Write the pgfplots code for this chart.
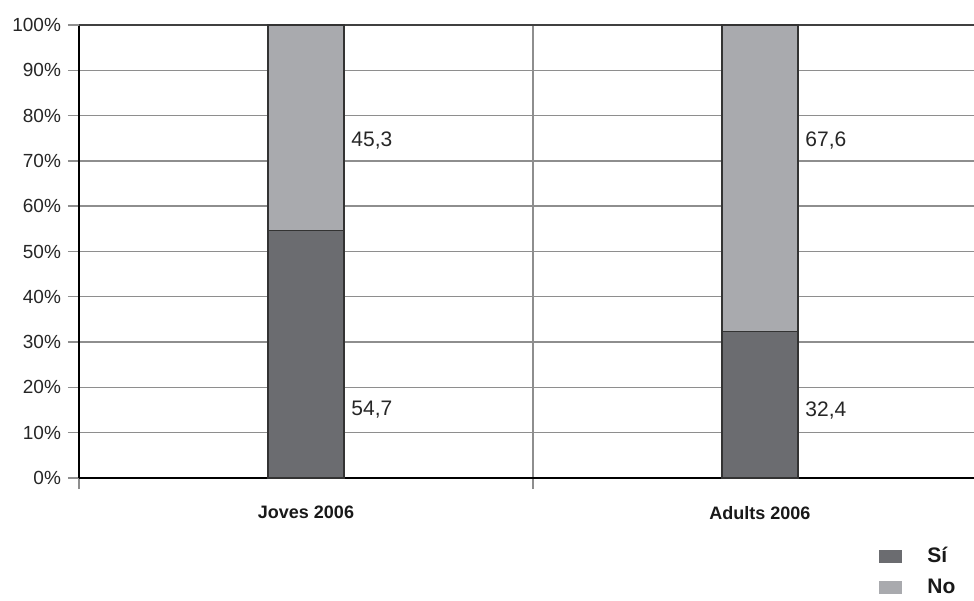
\documentclass[border=0pt]{standalone}
\usepackage{pgfplots}
\pgfplotsset{compat=1.18}
\usepackage{fontspec}
\setmainfont{Liberation Sans}
\definecolor{si}{HTML}{6B6C70}
\definecolor{no}{HTML}{A9AAAE}
\definecolor{gridc}{HTML}{8E8E8E}
\begin{document}
\begin{tikzpicture}[x=1pt,y=1pt]
\useasboundingbox (0,0) rectangle (487,300);
\clip (0,0) rectangle (487,300);
\begin{axis}[
  at={(39.5pt,61pt)}, anchor=south west,
  scale only axis, width=454pt, height=226.5pt,
  xmin=0, xmax=2, ymin=0, ymax=100,
  ybar stacked, bar width=38pt,
  axis lines*=left,
  axis line style={draw=black, line width=0.7pt},
  xtick={0,1,2}, xticklabels={},
  ytick={0,10,...,90},
  extra y ticks={100},
  extra y tick style={grid style={draw=black!75, line width=1pt}},
  ymajorgrids, xmajorgrids,
  grid style={draw=gridc, line width=0.7pt},
  tick style={draw=gridc, line width=0.7pt},
  major tick length=5.5pt, tick align=outside,
  yticklabel={\pgfmathprintnumber{\tick}\%},
  yticklabel style={font=\fontsize{9.5}{11}\selectfont, text=black!85},
  /pgf/number format/assume math mode=true,
  extra x ticks={0.5,1.5},
  extra x tick labels={Joves 2006, Adults 2006},
  extra x tick style={major tick length=0pt, xmajorgrids=false,
    xticklabel style={font=\bfseries\fontsize{9}{10}\selectfont, text=black!90, yshift=-10.5pt}},
  legend style={draw=none, fill=none, at={(0.881,-0.140)}, anchor=north west,
    font=\bfseries\fontsize{10.5}{12}\selectfont, text=black!90, row sep=2pt, inner sep=0pt,
    nodes={inner ysep=2.5pt}},
  legend cell align=left,
  legend image code/.code={\fill[#1, draw=none] (0pt,-3.25pt) rectangle (11.5pt,3.25pt);
    \path[draw=none, fill=none] (0pt,0pt) -- (22pt,0pt);},
]
\addplot[fill=si, draw=black!80, line width=0.6pt] coordinates {(0.5,54.7) (1.5,32.4)};
\addlegendentry{Sí}
\addplot[fill=no, draw=black!80, line width=0.6pt] coordinates {(0.5,45.3) (1.5,67.6)};
\addlegendentry{No}
\node[anchor=west, inner sep=0pt, xshift=22.5pt, font=\fontsize{10.5}{12}\selectfont, text=black!85] at (axis cs:0.5,15) {54,7};
\node[anchor=west, inner sep=0pt, xshift=22.5pt, font=\fontsize{10.5}{12}\selectfont, text=black!85] at (axis cs:0.5,74.6) {45,3};
\node[anchor=west, inner sep=0pt, xshift=22.5pt, font=\fontsize{10.5}{12}\selectfont, text=black!85] at (axis cs:1.5,15) {32,4};
\node[anchor=west, inner sep=0pt, xshift=22.5pt, font=\fontsize{10.5}{12}\selectfont, text=black!85] at (axis cs:1.5,74.6) {67,6};
\end{axis}
\end{tikzpicture}
\end{document}
